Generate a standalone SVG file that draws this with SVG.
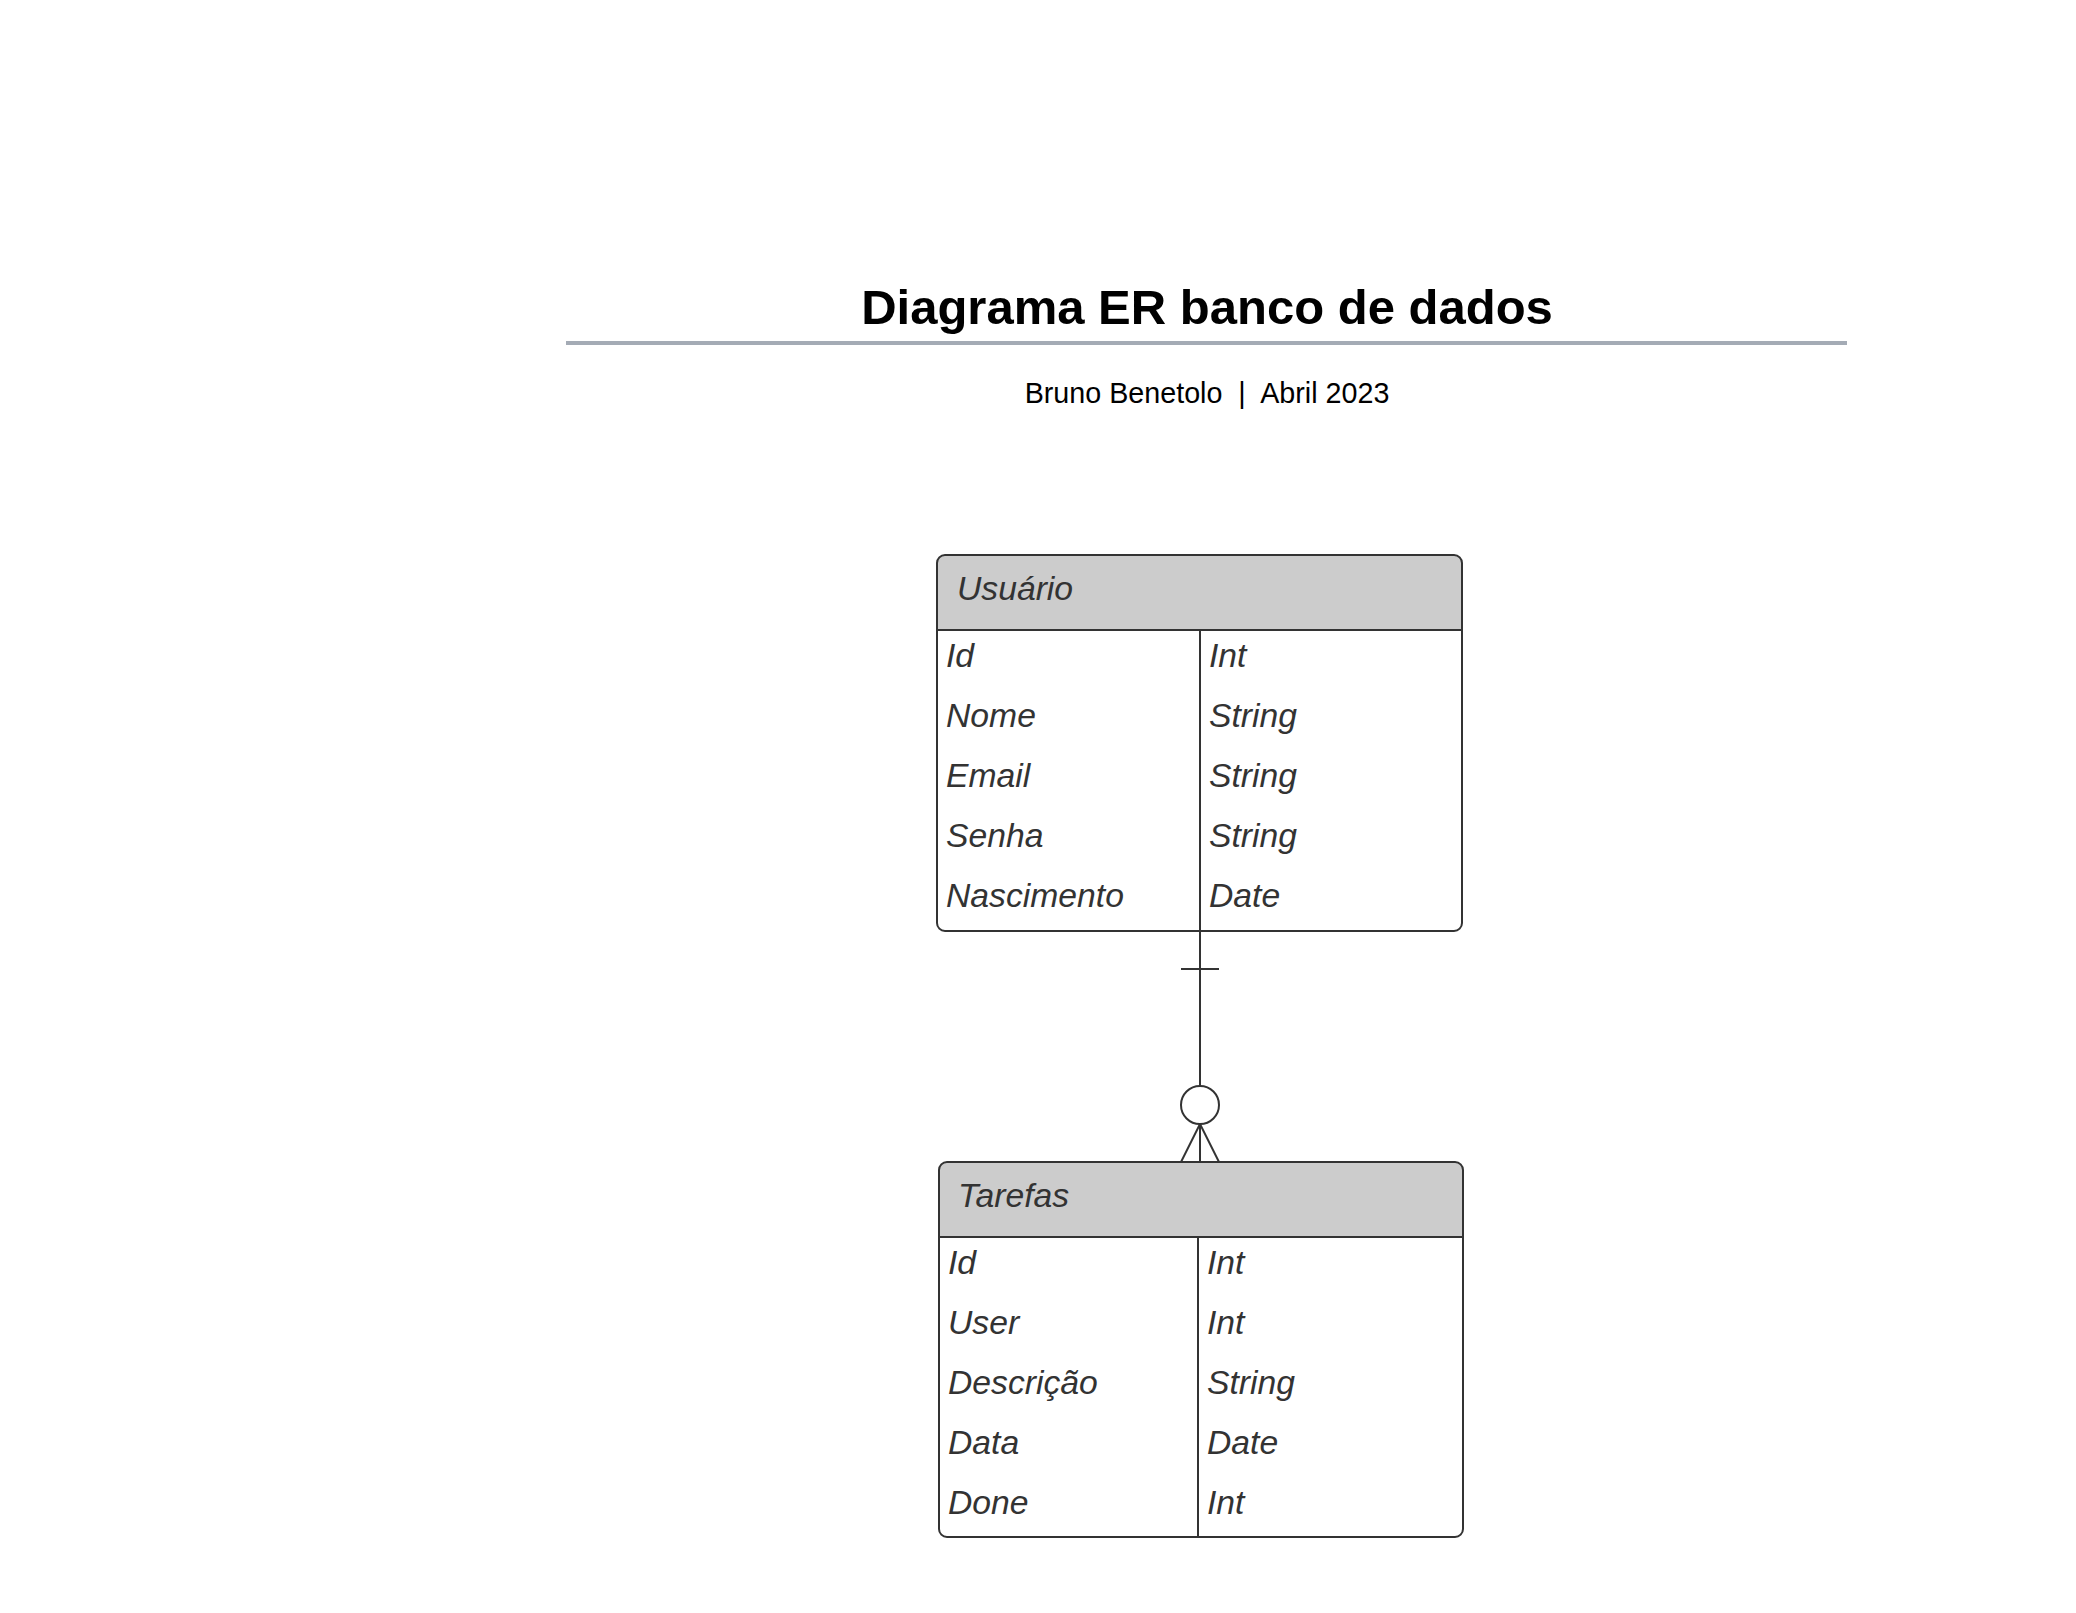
<svg xmlns="http://www.w3.org/2000/svg" width="2076" height="1613" viewBox="0 0 2076 1613">
<style>
.title{font-family:"Liberation Sans",Arial,sans-serif;font-weight:bold;font-size:49px;fill:#000}
.sub{font-family:"Liberation Sans",Arial,sans-serif;font-size:28.7px;fill:#000;white-space:pre}
.t{font-family:"Liberation Sans",Arial,sans-serif;font-style:italic;font-size:33.7px;fill:#333}
.box{fill:none;stroke:#333;stroke-width:2}
.hdr{fill:#ccc}
.ln{stroke:#333;stroke-width:2;fill:none}
</style>
<rect width="2076" height="1613" fill="#fff"/>
<g id="header">
<text class="title" x="1207" y="324" text-anchor="middle">Diagrama ER banco de dados</text>
<line x1="566" y1="343" x2="1847" y2="343" stroke="#a4abb5" stroke-width="4"/>
<text class="sub" x="1207" y="403" text-anchor="middle" xml:space="preserve">Bruno Benetolo  |  Abril 2023</text>
</g>
<g id="usuario">
<path class="hdr" d="M945,555 H1454 A8,8 0 0 1 1462,563 V630 H937 V563 A8,8 0 0 1 945,555 Z"/>
<rect class="box" x="937" y="555" width="525" height="376" rx="8"/>
<line class="ln" x1="937" y1="630" x2="1462" y2="630"/>
<line class="ln" x1="1200" y1="630" x2="1200" y2="931"/>
<text class="t" x="957" y="600">Usuário</text>
<text class="t" x="946" y="667">Id</text>
<text class="t" x="946" y="727">Nome</text>
<text class="t" x="946" y="787">Email</text>
<text class="t" x="946" y="847">Senha</text>
<text class="t" x="946" y="907">Nascimento</text>
<text class="t" x="1209" y="667">Int</text>
<text class="t" x="1209" y="727">String</text>
<text class="t" x="1209" y="787">String</text>
<text class="t" x="1209" y="847">String</text>
<text class="t" x="1209" y="907">Date</text>
</g>
<g id="tarefas">
<path class="hdr" d="M947,1162 H1455 A8,8 0 0 1 1463,1170 V1237 H939 V1170 A8,8 0 0 1 947,1162 Z"/>
<rect class="box" x="939" y="1162" width="524" height="375" rx="8"/>
<line class="ln" x1="939" y1="1237" x2="1463" y2="1237"/>
<line class="ln" x1="1198" y1="1237" x2="1198" y2="1537"/>
<text class="t" x="958" y="1207">Tarefas</text>
<text class="t" x="948" y="1274">Id</text>
<text class="t" x="948" y="1334">User</text>
<text class="t" x="948" y="1394">Descrição</text>
<text class="t" x="948" y="1454">Data</text>
<text class="t" x="948" y="1514">Done</text>
<text class="t" x="1207" y="1274">Int</text>
<text class="t" x="1207" y="1334">Int</text>
<text class="t" x="1207" y="1394">String</text>
<text class="t" x="1207" y="1454">Date</text>
<text class="t" x="1207" y="1514">Int</text>
</g>
<g id="connectors">
<line class="ln" x1="1200" y1="931" x2="1200" y2="1086"/>
<line class="ln" x1="1181" y1="969" x2="1219" y2="969"/>
<circle class="ln" cx="1200" cy="1105" r="19" style="fill:#fff"/>
<line class="ln" x1="1200" y1="1124" x2="1200" y2="1162"/>
<line class="ln" x1="1200" y1="1124" x2="1181" y2="1162"/>
<line class="ln" x1="1200" y1="1124" x2="1219" y2="1162"/>
</g>
</svg>
